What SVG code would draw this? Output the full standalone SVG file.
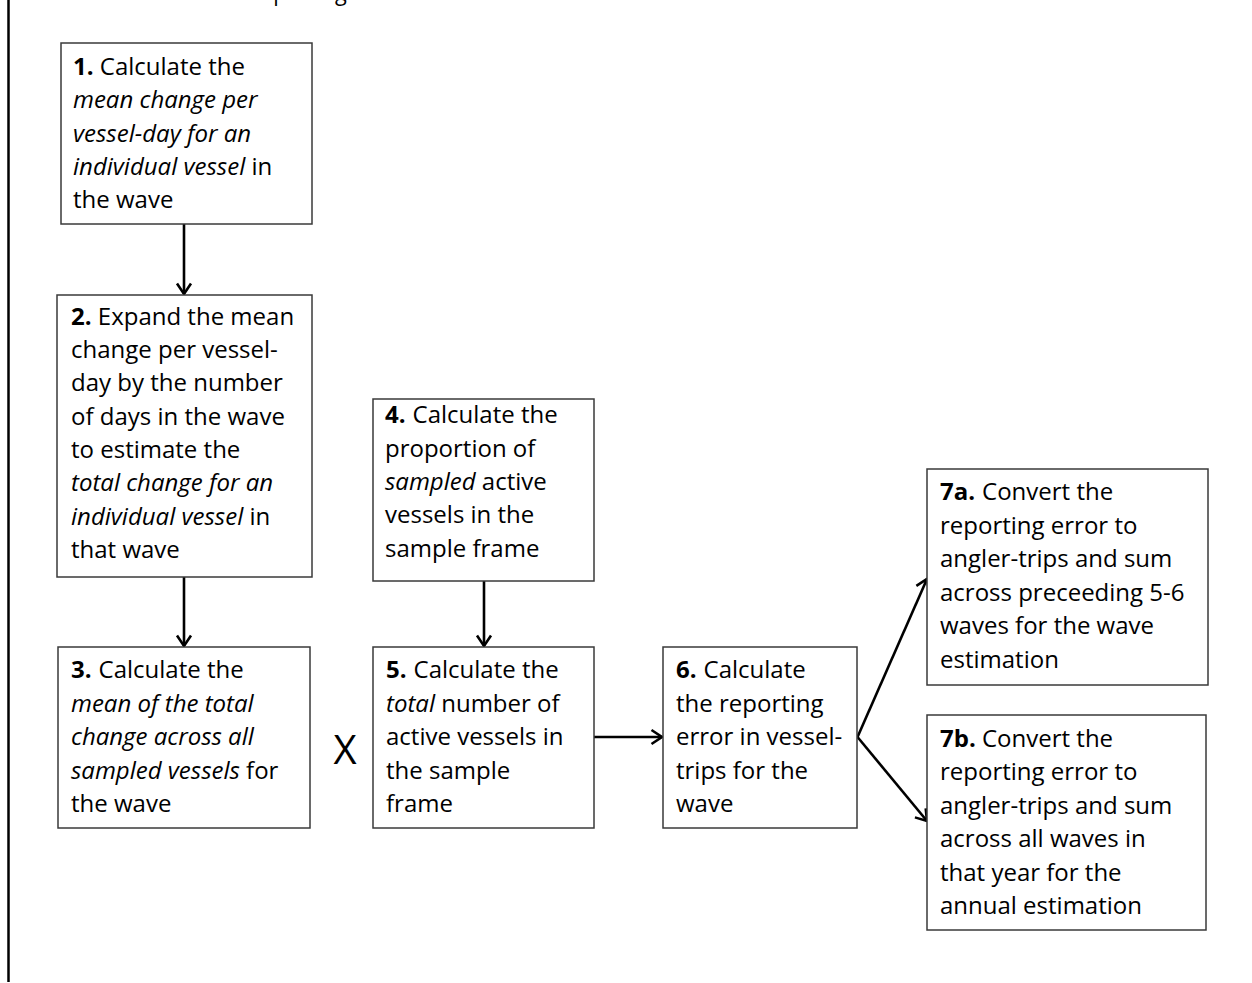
<svg xmlns="http://www.w3.org/2000/svg" width="1252" height="983" viewBox="0 0 1252 983">
<defs>
<marker id="arr" markerUnits="userSpaceOnUse" markerWidth="24" markerHeight="24" viewBox="-14 -12 16 24" refX="0" refY="0" orient="auto">
<path d="M-10.5,-7 L0,0 L-10.5,7" fill="none" stroke="#000" stroke-width="2.6"/>
</marker>
</defs>
<style>
.box{fill:#fff;stroke:#3a3a3a;stroke-width:1.5}
.t{font-family:"Open Sans","Liberation Sans",sans-serif;font-size:24px;fill:#000}
.b{font-weight:bold}
.i{font-style:italic}
.c{stroke:#000;stroke-width:2.6;fill:none;marker-end:url(#arr)}
</style>
<rect x="0" y="0" width="1252" height="983" fill="#fff"/>
<line x1="8.5" y1="0" x2="8.5" y2="982" stroke="#000" stroke-width="2.5"/>
<text class="t" x="13" y="-0.5" textLength="397" lengthAdjust="spacingAndGlyphs">and annual estimate of reporting error.</text>

<g id="connectors">
<line class="c" x1="184" y1="224" x2="184" y2="294"/>
<line class="c" x1="184" y1="577" x2="184" y2="646"/>
<line class="c" x1="484" y1="581" x2="484" y2="646"/>
<line class="c" x1="594" y1="737" x2="662" y2="737"/>
<line class="c" x1="857.5" y1="737" x2="927" y2="579"/>
<line class="c" x1="857.5" y1="737" x2="927" y2="821"/>
</g>

<g id="node1">
<rect class="box" x="61" y="43" width="251" height="181"/>
<text class="t" x="73" y="75"><tspan class="b">1.</tspan> Calculate the</text>
<text class="t i" x="73" y="108">mean change per</text>
<text class="t i" x="73" y="142">vessel-day for an</text>
<text class="t" x="73" y="175"><tspan class="i">individual vessel</tspan> in</text>
<text class="t" x="73" y="208">the wave</text>
</g>

<g id="node2">
<rect class="box" x="57" y="295" width="255" height="282"/>
<text class="t" x="71" y="325"><tspan class="b">2.</tspan> Expand the mean</text>
<text class="t" x="71" y="358">change per vessel-</text>
<text class="t" x="71" y="391">day by the number</text>
<text class="t" x="71" y="425">of days in the wave</text>
<text class="t" x="71" y="458">to estimate the</text>
<text class="t i" x="71" y="491">total change for an</text>
<text class="t" x="71" y="525"><tspan class="i">individual vessel</tspan> in</text>
<text class="t" x="71" y="558">that wave</text>
</g>

<g id="node3">
<rect class="box" x="58" y="647" width="252" height="181"/>
<text class="t" x="71" y="678"><tspan class="b">3.</tspan><tspan dx="7">Calculate the</tspan></text>
<text class="t i" x="71" y="712">mean of the total</text>
<text class="t i" x="71" y="745">change across all</text>
<text class="t" x="71" y="779"><tspan class="i">sampled vessels</tspan> for</text>
<text class="t" x="71" y="812">the wave</text>
</g>

<g id="multiply">
<text class="t" x="345" y="764" text-anchor="middle" style="font-size:40px">X</text>
</g>

<g id="node4">
<rect class="box" x="373" y="399" width="221" height="182"/>
<text class="t" x="385" y="423"><tspan class="b">4.</tspan><tspan dx="7">Calculate the</tspan></text>
<text class="t" x="385" y="457">proportion of</text>
<text class="t" x="385" y="490"><tspan class="i">sampled</tspan> active</text>
<text class="t" x="385" y="523">vessels in the</text>
<text class="t" x="385" y="557">sample frame</text>
</g>

<g id="node5">
<rect class="box" x="373" y="647" width="221" height="181"/>
<text class="t" x="386" y="678"><tspan class="b">5.</tspan><tspan dx="7">Calculate the</tspan></text>
<text class="t" x="386" y="712"><tspan class="i">total</tspan> number of</text>
<text class="t" x="386" y="745">active vessels in</text>
<text class="t" x="386" y="779">the sample</text>
<text class="t" x="386" y="812">frame</text>
</g>

<g id="node6">
<rect class="box" x="663" y="647" width="194" height="181"/>
<text class="t" x="676" y="678"><tspan class="b">6.</tspan><tspan dx="7">Calculate</tspan></text>
<text class="t" x="676" y="712">the reporting</text>
<text class="t" x="676" y="745">error in vessel-</text>
<text class="t" x="676" y="779">trips for the</text>
<text class="t" x="676" y="812">wave</text>
</g>

<g id="node7a">
<rect class="box" x="927" y="469" width="281" height="216"/>
<text class="t" x="940" y="500"><tspan class="b">7a.</tspan><tspan dx="7">Convert the</tspan></text>
<text class="t" x="940" y="534">reporting error to</text>
<text class="t" x="940" y="567">angler-trips and sum</text>
<text class="t" x="940" y="601">across preceeding 5-6</text>
<text class="t" x="940" y="634">waves for the wave</text>
<text class="t" x="940" y="668">estimation</text>
</g>

<g id="node7b">
<rect class="box" x="927" y="715" width="279" height="215"/>
<text class="t" x="940" y="747"><tspan class="b">7b.</tspan> Convert the</text>
<text class="t" x="940" y="780">reporting error to</text>
<text class="t" x="940" y="814">angler-trips and sum</text>
<text class="t" x="940" y="847">across all waves in</text>
<text class="t" x="940" y="881">that year for the</text>
<text class="t" x="940" y="914">annual estimation</text>
</g>
</svg>
